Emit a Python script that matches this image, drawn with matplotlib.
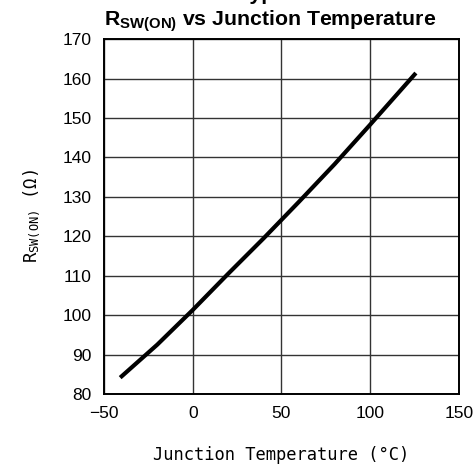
import matplotlib
matplotlib.use("Agg")
import matplotlib.pyplot as plt

# R_SW(ON) vs junction temperature
temps = [-40, -20, 0, 20, 40, 60, 80, 100, 125]
rsw_on = [84.5, 92.5, 101.3, 110.5, 119.5, 128.8, 138.3, 148.3, 161.0]

x_ticks = [-50, 0, 50, 100, 150]
y_ticks = list(range(80, 171, 10))

plt.rcParams["mathtext.fontset"] = "custom"
plt.rcParams["mathtext.rm"] = "Liberation Sans"
plt.rcParams["mathtext.bf"] = "Liberation Sans:bold"
plt.rcParams["mathtext.it"] = "Liberation Sans:italic"
plt.rcParams["mathtext.tt"] = "DejaVu Sans Mono"

fig = plt.figure(figsize=(4.77, 4.71), dpi=100)
ax = fig.add_axes([0.218, 0.1635, 0.744, 0.7535])

ax.plot(temps, rsw_on, color="black", linewidth=3.0, solid_capstyle="projecting", zorder=3)

ax.set_xlim(-50, 150)
ax.set_ylim(80, 170)
ax.set_xticks(x_ticks)
ax.set_yticks(y_ticks)
ax.set_xticklabels([str(t).replace("-", "\u2212") for t in x_ticks],
                   family="Liberation Sans", fontsize=12.5)
ax.set_yticklabels([str(t) for t in y_ticks], family="Liberation Sans", fontsize=12.5)
ax.tick_params(length=0, pad=9)

ax.grid(True, color="#333333", linewidth=1.0)
ax.set_axisbelow(True)
for s in ax.spines.values():
    s.set_linewidth(1.4)
    s.set_color("black")

ax.set_xlabel("Junction Temperature (\u00b0C)", family="DejaVu Sans Mono",
              fontsize=12.3, labelpad=18)
ax.set_ylabel("R$_{\\mathtt{SW(ON)}}$ (\u03a9)", family="DejaVu Sans Mono",
              fontsize=12.3, labelpad=14)

fig.text(0.566, 0.945, r"$\mathbf{R_{SW(ON)}}$ vs Junction Temperature",
         ha="center", va="baseline", fontsize=15.3, weight="bold",
         family="Liberation Sans")
fig.text(0.499, 0.999, "Typical Performance Characteristics", ha="left",
         va="baseline", fontsize=15.3, weight="bold", family="Liberation Sans")

fig.savefig("out.png", dpi=100)
